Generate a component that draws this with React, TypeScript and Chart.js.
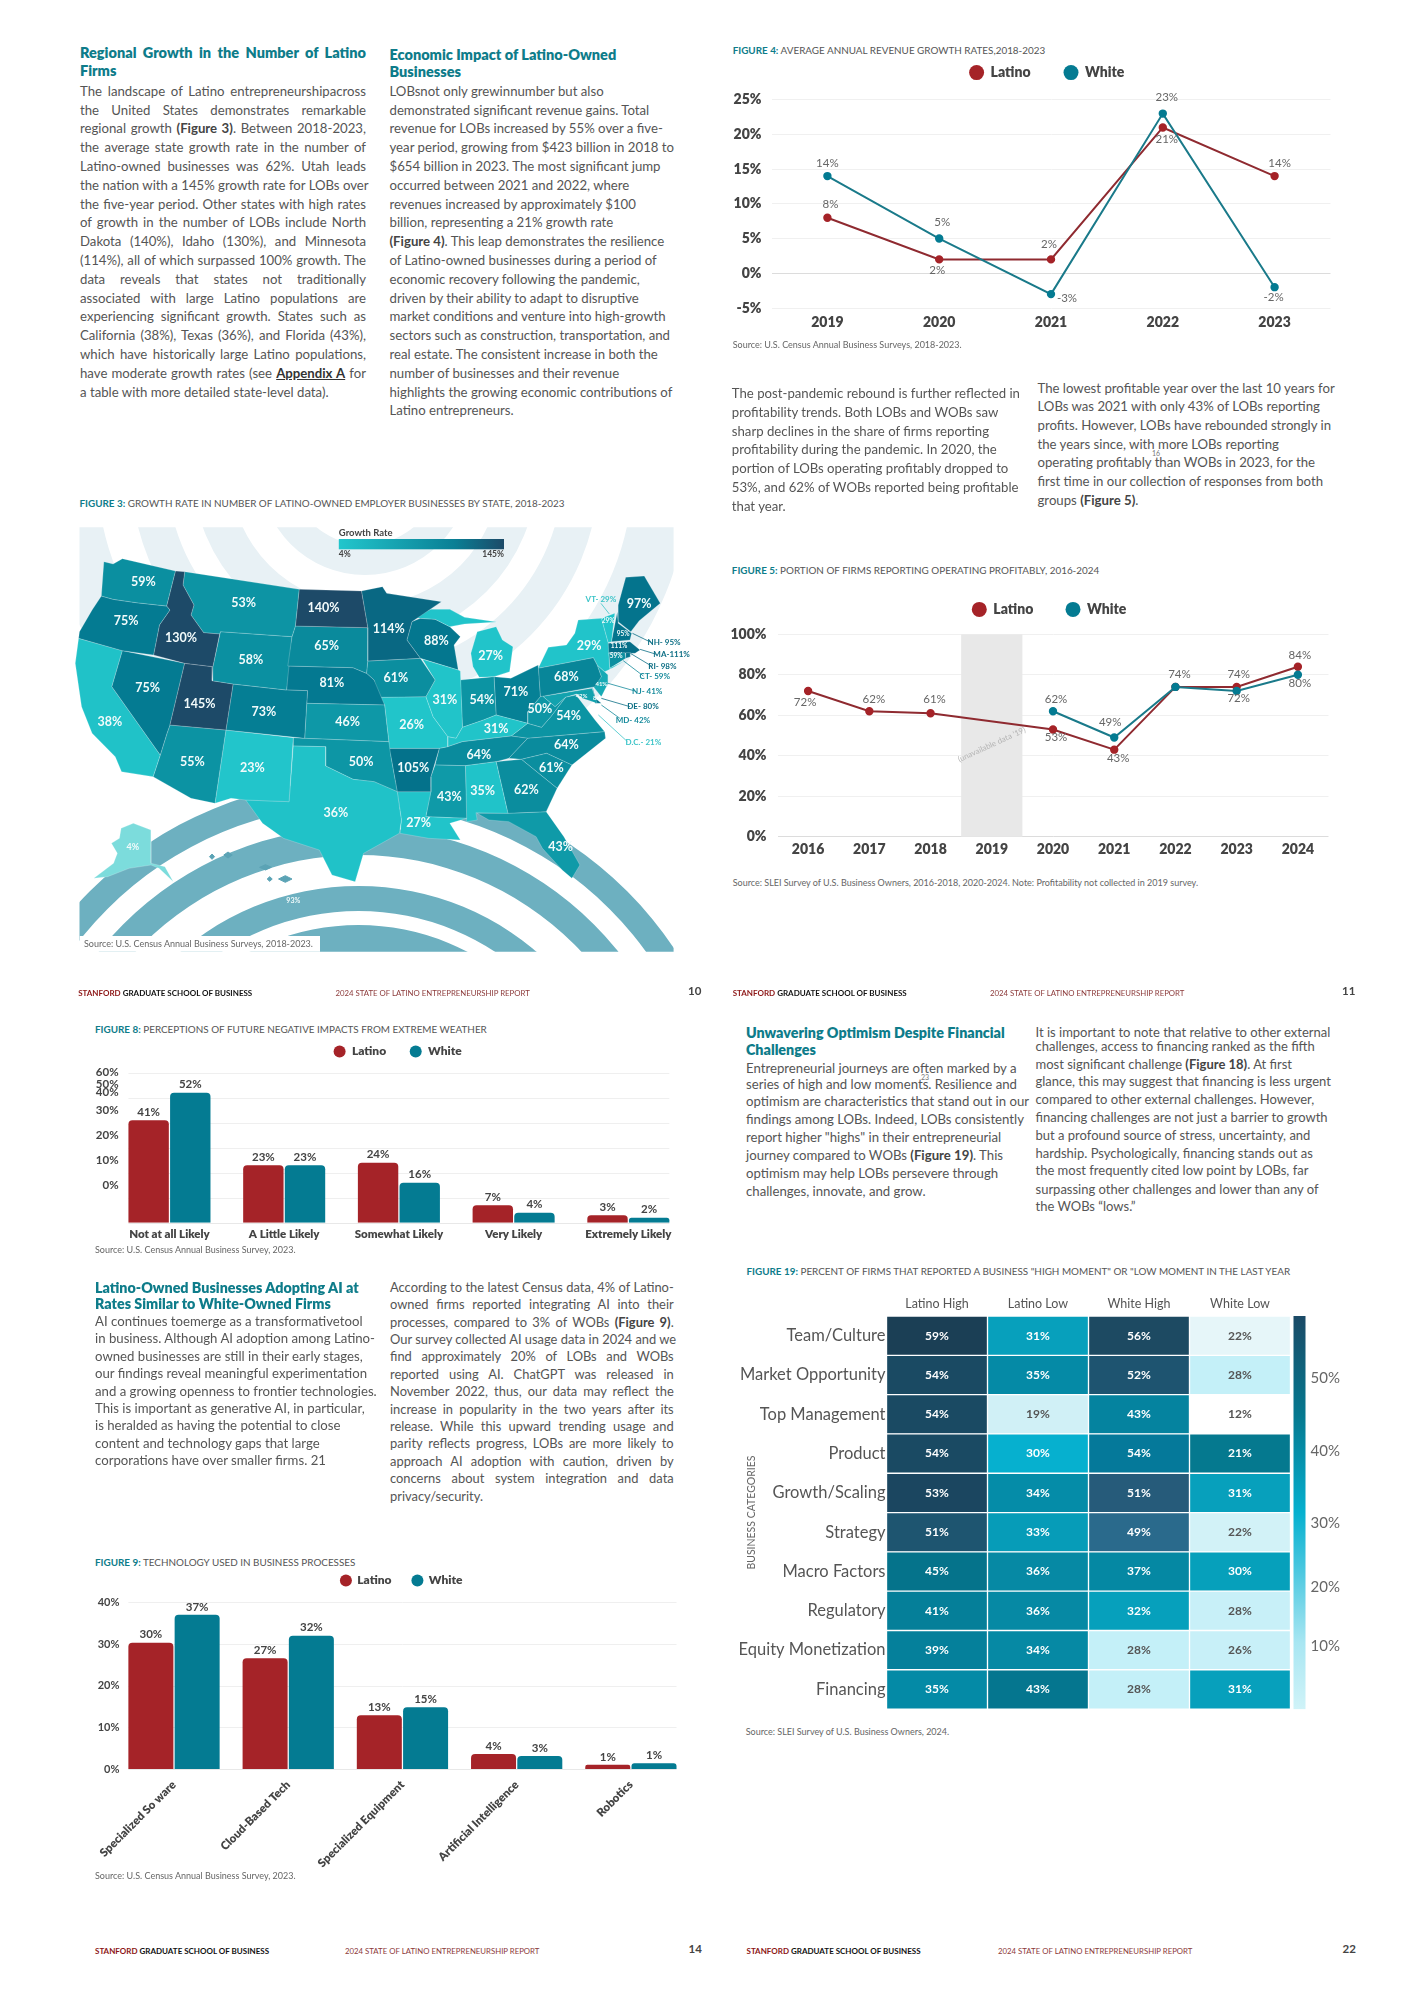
import React, { useEffect, useRef } from "react";
import { Chart, registerables } from "chart.js";

Chart.register(...registerables);
const FONT = "Lato";
Chart.defaults.font.family = FONT;

/* ---------- data ---------- */
const SERIES = ["Latino", "White"];

const fig4Years = ["2019", "2020", "2021", "2022", "2023"];
const fig4Latino = [8, 2, 2, 21, 14];
const fig4White = [14, 5, -3, 23, -2];

const fig5Years = ["2016", "2017", "2018", "2019", "2020", "2021", "2022", "2023", "2024"];
const fig5Latino = [72, 62, 61, null, 53, 43, 74, 74, 84];
const fig5White = [null, null, null, null, 62, 49, 74, 72, 80];

const fig8Cats = ["Not at all Likely", "A Little Likely", "Somewhat Likely", "Very Likely", "Extremely Likely"];
const fig8Latino = [41, 23, 24, 7, 3];
const fig8White = [52, 23, 16, 4, 2];
const fig8Ticks = [60, 50, 40, 30, 20, 10, 0];

const fig9Cats = ["Specialized So ware", "Cloud-Based Tech", "Specialized Equipment", "Artificial Intelligence", "Robotics"];
const fig9Latino = [30.3, 26.6, 12.9, 3.6, 1];
const fig9White = [37, 32, 14.8, 3.1, 1.4];
const fig9Ticks = [40, 30, 20, 10, 0];

const heatRows = ["Team/Culture", "Market Opportunity", "Top Management", "Product", "Growth/Scaling", "Strategy", "Macro Factors", "Regulatory", "Equity Monetization", "Financing"];
const heatColumns = ["Latino High", "Latino Low", "White High", "White Low"];
const heatLatinoHigh = [59, 54, 54, 54, 53, 51, 45, 41, 39, 35];
const heatLatinoLow = [31, 35, 19, 30, 34, 33, 36, 36, 34, 43];
const heatWhiteHigh = [56, 52, 43, 54, 51, 49, 37, 32, 28, 28];
const heatWhiteLow = [22, 28, 12, 21, 31, 22, 30, 28, 26, 31];
const heatBarTicks = [50, 40, 30, 20, 10];

const stateValues: Record<string, number> = {
  WA: 59, OR: 75, ID: 130, MT: 53, ND: 140, MN: 114, WI: 88, ME: 97, NY: 29, MI: 27, WY: 58, SD: 65, NE: 81, IA: 61,
  NV: 75, UT: 145, CO: 73, CA: 38, KS: 46, MO: 26, IL: 31, IN: 54, OH: 71, PA: 68, WV: 50, VA: 54, KY: 31, NC: 64,
  TN: 64, AZ: 55, NM: 23, OK: 50, AR: 105, SC: 61, GA: 62, AL: 35, MS: 43, TX: 36, LA: 27, FL: 43, AK: 4, HI: 93,
  VT: 29, NH: 95, MA: 111, CT: 59, RI: 98, NJ: 41, DE: 80, MD: 42, DC: 21,
};

/* state outlines, in map units */
const stateOutlines: [string, number[]][] = [
  ["WA", [128,215,150,222,172,206,298,243,277,348,205,338,150,328,122,318]],
  ["OR", [122,318,150,328,205,338,277,348,285,360,260,405,246,495,172,482,68,445,70,425,100,360]],
  ["ID", [298,243,320,245,316,285,342,345,335,375,365,428,403,432,387,530,320,520,246,495,260,405,285,360,277,348]],
  ["MT", [320,245,592,298,583,408,575,440,405,425,403,432,365,428,335,375,342,345,316,285]],
  ["ND", [592,298,740,303,755,413,583,408]],
  ["SD", [583,408,755,413,755,513,752,550,720,533,565,528,575,440]],
  ["WY", [405,425,575,440,562,600,435,582,385,572,387,530]],
  ["UT", [320,520,387,530,385,572,435,582,418,720,285,705]],
  ["NV", [172,482,320,520,285,705,278,730,262,795,147,590]],
  ["CA", [68,445,172,482,147,590,262,795,245,860,170,845,155,800,100,730,75,650,60,520]],
  ["AZ", [285,705,418,720,392,940,335,925,245,860,262,795,278,730]],
  ["CO", [435,582,562,600,612,602,610,640,605,745,418,720]],
  ["NM", [418,720,578,743,568,935,465,930,430,925,392,940]],
  ["TX", [578,768,655,770,655,828,720,868,770,875,825,905,835,990,830,1030,745,1090,725,1175,670,1155,640,1080,555,1045,505,1000,465,930,568,935]],
  ["OK", [578,743,605,745,805,755,810,800,825,905,770,875,720,868,655,828,655,770,578,768]],
  ["KS", [610,640,795,645,805,755,605,745]],
  ["NE", [565,528,720,533,752,550,770,570,795,645,610,640,612,602,562,600]],
  ["MN", [740,303,790,290,800,310,930,335,860,395,848,450,880,505,755,513,755,413]],
  ["IA", [755,513,880,505,915,570,893,620,778,622,770,570,752,550]],
  ["MO", [778,622,893,620,910,680,945,740,945,770,925,775,805,775,805,755,795,645]],
  ["AR", [805,775,925,775,905,860,905,905,825,905,810,800]],
  ["LA", [825,905,905,905,893,980,990,985,950,1000,975,1050,900,1045,832,1030,835,990]],
  ["MS", [915,825,987,827,990,985,893,980,905,905,905,860]],
  ["AL", [987,827,1060,815,1088,970,1012,968,1015,990,990,995]],
  ["GA", [1060,815,1120,808,1205,895,1179,965,1088,970]],
  ["FL", [1015,970,1088,970,1179,965,1221,1040,1259,1125,1240,1165,1217,1140,1170,1075,1155,1040,1090,995,1043,990]],
  ["SC", [1120,808,1180,790,1240,825,1205,895]],
  ["NC", [1090,805,1135,745,1318,725,1320,745,1240,825,1180,790,1120,808]],
  ["TN", [925,775,945,770,980,755,1096,738,1135,745,1090,805,1060,815,987,827,915,825]],
  ["KY", [945,740,965,745,980,712,1030,690,1060,675,1135,700,1096,738,980,755,945,770]],
  ["IL", [885,508,970,540,975,543,980,712,965,745,945,740,910,680,893,620,915,570]],
  ["IN", [975,570,1055,560,1060,675,1030,690,980,712]],
  ["OH", [1055,560,1095,565,1160,525,1165,620,1135,665,1135,700,1060,675]],
  ["MI", [1005,530,1000,490,1015,425,1060,410,1075,450,1100,470,1092,545,1055,560,1020,562]],
  ["MI", [862,382,905,358,950,358,985,382,1062,396,985,402,950,410,915,388,880,385]],
  ["WI", [860,395,880,385,915,388,950,410,975,440,960,465,970,540,880,505,848,450]],
  ["PA", [1160,535,1291,503,1300,525,1310,560,1295,590,1165,620]],
  ["NY", [1160,535,1184,472,1227,465,1247,430,1255,390,1310,385,1326,458,1330,538,1318,545,1300,525,1291,503]],
  ["NY", [1320,540,1366,512,1335,535]],
  ["WV", [1135,700,1135,665,1165,620,1170,618,1200,650,1225,622,1190,680,1168,712]],
  ["VA", [1096,738,1135,700,1168,712,1190,680,1225,622,1250,615,1295,690,1318,725,1135,745]],
  ["MD", [1165,620,1288,595,1300,640,1265,625,1251,612,1225,622,1200,650,1170,618]],
  ["DE", [1288,585,1296,625,1310,640,1295,640]],
  ["NJ", [1300,525,1326,555,1326,580,1310,620,1291,590,1310,560]],
  ["CT", [1328,490,1366,488,1368,505,1330,535]],
  ["RI", [1368,488,1379,488,1379,500,1368,505]],
  ["MA", [1326,460,1378,455,1402,480,1390,490,1326,488]],
  ["VT", [1310,385,1342,370,1334,455,1326,458]],
  ["NH", [1348,365,1350,400,1382,430,1378,450,1334,455]],
  ["ME", [1368,262,1412,258,1450,340,1400,392,1380,425,1350,395,1350,345]],
  ["AK", [169,1015,198,1000,240,1020,240,1120,273,1130,293,1175,259,1135,240,1125,188,1135,137,1160,104,1165,151,1120,160,1090,146,1060,165,1045]],
  ["HI", [543,1167,559,1157,575,1167,559,1177]],
  ["HI", [516,1167,522,1160,528,1167,522,1174]],
  ["HI", [498,1132,512,1124,526,1132,512,1140]],
  ["HI", [413,1095,423,1086,433,1095,423,1104]],
  ["HI", [379,1100,385,1092,391,1100,385,1108]],
];

const stateLabelAt: [string, number, number][] = [
  ["WA",222,275],["OR",181,393],["ID",311,444],["MT",460,338],["ND",650,354],["MN",805,418],["WI",918,454],["ME",1400,341],
  ["NY",1281,468],["MI",1047,499],["WY",477,509],["SD",657,467],["NE",670,580],["IA",822,565],["NV",232,593],["UT",355,642],
  ["CO",508,666],["CA",142,696],["KS",707,696],["MO",859,705],["IL",938,630],["IN",1026,630],["OH",1107,606],["PA",1227,562],
  ["WV",1164,658],["VA",1232,679],["KY",1060,717],["NC",1227,764],["TN",1019,794],["AZ",338,817],["NM",481,833],["OK",739,817],
  ["AR",863,835],["SC",1191,835],["GA",1132,899],["AL",1028,903],["MS",949,920],["TX",679,968],["LA",876,998],["FL",1213,1072],
];
const tinyLabelAt: [string, number, number, number][] = [
  ["AK",197,1071,9],["HI",578,1233,7],["VT",1326,393,6.5],["NH",1362,432,6.5],["MA",1352,468,6.5],["CT",1345,497,6.5],
  ["NJ",1310,583,6],["MD",1263,617,6],["DE",1304,623,6],
];
const callouts: [string, string, number, number, number, number, number, number, string][] = [
  ["VT","VT- 29%",1309,327,1309,340,1329,372,"#3cc4c8"],
  ["NH","NH- 95%",1459,457,1384,430,1428,457,"#0d6f85"],
  ["MA","MA-111%",1477,493,1402,478,1441,493,"#0d6f85"],
  ["RI","RI- 98%",1455,530,1379,490,1429,528,"#0d6f85"],
  ["CT","CT- 59%",1437,560,1362,512,1410,558,"#158a9c"],
  ["NJ","NJ- 41%",1419,605,1326,580,1390,603,"#158a9c"],
  ["DE","DE- 80%",1409,650,1310,625,1378,650,"#0d6f85"],
  ["MD","MD- 42%",1385,690,1310,645,1354,685,"#158a9c"],
  ["DC","D.C.- 21%",1410,758,1303,675,1372,755,"#3cc4c8"],
];
const mapLegend = { title: "Growth Rate", low: "4%", high: "145%" };

/* ---------- text ---------- */
const txtRegionalHead = ["Regional Growth in the Number of Latino", "Firms"];
const txtRegional = [
  "The landscape of Latino entrepreneurshipacross",
  "the United States demonstrates remarkable",
  "regional growth **(Figure 3)**. Between 2018-2023,",
  "the average state growth rate in the number of",
  "Latino-owned businesses was 62%. Utah leads",
  "the nation with a 145% growth rate for LOBs over",
  "the five-year period. Other states with high rates",
  "of growth in the number of LOBs include North",
  "Dakota (140%), Idaho (130%), and Minnesota",
  "(114%), all of which surpassed 100% growth. The",
  "data reveals that states not traditionally",
  "associated with large Latino populations are",
  "experiencing significant growth. States such as",
  "California (38%), Texas (36%), and Florida (43%),",
  "which have historically large Latino populations,",
  "have moderate growth rates (see __Appendix A__ for",
  "a table with more detailed state-level data).",
];
const txtEconHead = ["Economic Impact of Latino-Owned", "Businesses"];
const txtEcon = [
  "LOBsnot only grewinnumber but also",
  "demonstrated significant revenue gains. Total",
  "revenue for LOBs increased by 55% over a five-",
  "year period, growing from $423 billion in 2018 to",
  "$654 billion in 2023. The most significant jump",
  "occurred between 2021 and 2022, where",
  "revenues increased by approximately $100",
  "billion, representing a 21% growth rate",
  "**(Figure 4)**. This leap demonstrates the resilience",
  "of Latino-owned businesses during a period of",
  "economic recovery following the pandemic,",
  "driven by their ability to adapt to disruptive",
  "market conditions and venture into high-growth",
  "sectors such as construction, transportation, and",
  "real estate. The consistent increase in both the",
  "number of businesses and their revenue",
  "highlights the growing economic contributions of",
  "Latino entrepreneurs.",
];
const txtRebound = [
  "The post-pandemic rebound is further reflected in",
  "profitability trends. Both LOBs and WOBs saw",
  "sharp declines in the share of firms reporting",
  "profitability during the pandemic. In 2020, the",
  "portion of LOBs operating profitably dropped to",
  "53%, and 62% of WOBs reported being profitable",
  "that year.",
];
const txtLowest = [
  "The lowest profitable year over the last 10 years for",
  "LOBs was 2021 with only 43% of LOBs reporting",
  "profits. However, LOBs have rebounded strongly in",
  "the years since, with more LOBs reporting",
  "operating profitably than WOBs in 2023, for the",
  "first time in our collection of responses from both",
  "groups **(Figure 5)**.",
];
const txtAiHead = ["Latino-Owned Businesses Adopting AI at", "Rates Similar to White-Owned Firms"];
const txtAi = [
  "AI continues toemerge as a transformativetool",
  "in business. Although AI adoption among Latino-",
  "owned businesses are still in their early stages,",
  "our findings reveal meaningful experimentation",
  "and a growing openness to frontier technologies.",
  "This is important as generative AI, in particular,",
  "is heralded as having the potential to close",
  "content and technology gaps that large",
  "corporations have over smaller firms. 21",
];
const txtCensus = [
  "According to the latest Census data, 4% of Latino-",
  "owned firms reported integrating AI into their",
  "processes, compared to 3% of WOBs **(Figure 9)**.",
  "Our survey collected AI usage data in 2024 and we",
  "find approximately 20% of LOBs and WOBs",
  "reported using AI. ChatGPT was released in",
  "November 2022, thus, our data may reflect the",
  "increase in popularity in the two years after its",
  "release. While this upward trending usage and",
  "parity reflects progress, LOBs are more likely to",
  "approach AI adoption with caution, driven by",
  "concerns about system integration and data",
  "privacy/security.",
];
const txtOptHead = ["Unwavering Optimism Despite Financial", "Challenges"];
const txtOpt = [
  "Entrepreneurial journeys are often marked by a",
  "series of high and low moments. Resilience and",
  "optimism are characteristics that stand out in our",
  "findings among LOBs. Indeed, LOBs consistently",
  'report higher "highs" in their entrepreneurial',
  "journey compared to WOBs **(Figure 19)**. This",
  "optimism may help LOBs persevere through",
  "challenges, innovate, and grow.",
];
const txtFinancing = [
  "It is important to note that relative to other external",
  "challenges, access to financing ranked as the fifth",
  "most significant challenge **(Figure 18)**. At first",
  "glance, this may suggest that financing is less urgent",
  "compared to other external challenges. However,",
  "financing challenges are not just a barrier to growth",
  "but a profound source of stress, uncertainty, and",
  "hardship. Psychologically, financing stands out as",
  "the most frequently cited low point by LOBs, far",
  "surpassing other challenges and lower than any of",
  "the WOBs \u201Clows.\u201D",
];

/* ---------- styles ---------- */
const RED = "#a52328";
const TEAL = "#047b92";
const RED_LINE = "#8f2a30";
const TEAL_LINE = "#1a7a8a";
const INK = "#555";
const HEAD = "#0e7c8a";
const ISLAND = "#5ba3b5";

const stateStops: [number, string][] = [
  [4, "#7cdcdc"], [20, "#22c6cb"], [38, "#20c2c8"], [43, "#0f9aa8"], [55, "#0c93a3"], [65, "#0a8a9c"],
  [75, "#047b92"], [110, "#04708a"], [130, "#1d4a68"], [145, "#1d4a68"],
];
const hexRgb = (h: string) => [1, 3, 5].map((i) => parseInt(h.slice(i, i + 2), 16));
function stateColor(v: number) {
  for (let i = 1; i < stateStops.length; i++) {
    if (v <= stateStops[i][0]) {
      const [a, ca] = stateStops[i - 1];
      const [b, cb] = stateStops[i];
      const t = (v - a) / (b - a);
      const A = hexRgb(ca), B = hexRgb(cb);
      return `rgb(${A.map((c, k) => Math.round(c + (B[k] - c) * t)).join(",")})`;
    }
  }
  return stateStops[stateStops.length - 1][1];
}

const heatFill = [
  ["#1b3f55", "#1a4a63", "#1a4a63", "#1a4a63", "#1b4660", "#1e5570", "#05738b", "#057f99", "#05809b", "#048aa6"],
  ["#07a0bc", "#058aa6", "#d0f0f6", "#06b0cf", "#058ca8", "#069cb8", "#0689a4", "#0689a4", "#0689a4", "#05768f"],
  ["#1d4a62", "#1e5470", "#05839f", "#05799a", "#265b7a", "#2a6a8c", "#0588a3", "#06a0bc", "#c4f0f8", "#c4f0f8"],
  ["#e6f6f9", "#c4f0f8", "#ffffff", "#05798f", "#07a0bc", "#d2f2f7", "#06a0bb", "#c8f0f8", "#c8f0f8", "#07a0bc"],
];
const isLightCell = (hex: string) => hexRgb(hex)[0] > 150;

/* ---------- plugins ---------- */
const dotLegend = (xs: number[], y: number, textGap: number, r: number, size: number) => ({
  id: "dotLegend",
  afterDraw(chart: any) {
    const { ctx } = chart;
    ctx.save();
    ctx.textBaseline = "middle";
    ctx.textAlign = "left";
    ctx.font = `800 ${size}px ${FONT}`;
    [0, 1].forEach((i) => {
      const ds = chart.data.datasets.find((d: any) => d.label === SERIES[i]);
      ctx.fillStyle = i === 0 ? RED : TEAL;
      ctx.beginPath();
      ctx.arc(xs[i], y, r, 0, Math.PI * 2);
      ctx.fill();
      ctx.fillStyle = "#444";
      ctx.fillText(ds.label, xs[i] + textGap, y);
    });
    ctx.restore();
  },
});

const pointLabels = (offsets: Record<string, ([number, number] | null)[]>, size: number) => ({
  id: "pointLabels",
  afterDatasetsDraw(chart: any) {
    const { ctx } = chart;
    ctx.save();
    ctx.font = `${size}px ${FONT}`;
    ctx.fillStyle = "#666";
    ctx.textAlign = "center";
    ctx.textBaseline = "middle";
    chart.data.datasets.forEach((ds: any, di: number) => {
      const meta = chart.getDatasetMeta(di);
      ds.data.forEach((v: number | null, i: number) => {
        const off = offsets[ds.label][i];
        if (v === null || !off) return;
        const p = meta.data[i];
        ctx.fillText(`${v}%`, p.x + off[0], p.y + off[1]);
      });
    });
    ctx.restore();
  },
});

const barExtras = (size: number, lift: number) => ({
  id: "barExtras",
  beforeDatasetsDraw(chart: any) {
    const { ctx, scales } = chart;
    const a = chart.getDatasetMeta(0).data[0];
    const zs = chart.getDatasetMeta(1).data;
    const z = zs[zs.length - 1];
    const x0 = a.x - a.width / 2;
    const x1 = z.x + z.width / 2;
    ctx.save();
    ctx.lineWidth = 1;
    scales.y.ticks.forEach((t: any) => {
      const y = Math.round(scales.y.getPixelForValue(t.value)) + 0.5;
      ctx.strokeStyle = t.value === 0 ? "#e8e8e8" : "#efefef";
      ctx.beginPath();
      ctx.moveTo(x0, y);
      ctx.lineTo(x1, y);
      ctx.stroke();
    });
    ctx.restore();
  },
  afterDatasetsDraw(chart: any) {
    const { ctx } = chart;
    ctx.save();
    ctx.font = `bold ${size}px ${FONT}`;
    ctx.fillStyle = "#444";
    ctx.textAlign = "center";
    ctx.textBaseline = "middle";
    chart.data.datasets.forEach((ds: any, di: number) => {
      chart.getDatasetMeta(di).data.forEach((b: any, i: number) => {
        ctx.fillText(`${Math.round(ds.data[i])}%`, b.x, b.y - lift);
      });
    });
    ctx.restore();
  },
});

const shiftedTickLabels = (values: number[], shifts: number[], right: number, size: number) => ({
  id: "shiftedTickLabels",
  afterDraw(chart: any) {
    const { ctx, scales } = chart;
    ctx.save();
    ctx.font = `bold ${size}px ${FONT}`;
    ctx.fillStyle = "#444";
    ctx.textAlign = "right";
    ctx.textBaseline = "middle";
    values.forEach((v, i) => ctx.fillText(`${v}%`, right, scales.y.getPixelForValue(v) + shifts[i]));
    ctx.restore();
  },
});

const missingYearBand = {
  id: "missingYearBand",
  beforeDatasetsDraw(chart: any) {
    const { ctx, scales, chartArea } = chart;
    const c = scales.x.getPixelForValue(3);
    const w = scales.x.getPixelForValue(4) - c;
    ctx.save();
    ctx.fillStyle = "#e8e8e8";
    ctx.fillRect(c - w / 2, chartArea.top, w, chartArea.bottom - chartArea.top);
    ctx.translate(c, scales.y.getPixelForValue(45.5));
    ctx.rotate(-0.43);
    ctx.font = `8px ${FONT}`;
    ctx.fillStyle = "#b5b5b5";
    ctx.textAlign = "center";
    ctx.textBaseline = "middle";
    ctx.fillText("(unavailable data '19)", 0, 0);
    ctx.restore();
  },
};

const heatExtras = {
  id: "heatExtras",
  afterDatasetsDraw(chart: any) {
    const { ctx, chartArea } = chart;
    ctx.save();
    ctx.textAlign = "center";
    ctx.textBaseline = "middle";
    ctx.font = `bold 12px ${FONT}`;
    chart.data.datasets.forEach((ds: any, di: number) => {
      chart.getDatasetMeta(di).data.forEach((b: any, i: number) => {
        ctx.fillStyle = isLightCell(heatFill[di][i]) ? "#555" : "#fff";
        const r = ds.data[i];
        ctx.fillText(`${r.v}%`, (b.x + b.base) / 2, b.y);
      });
    });
    const x = chartArea.right + 3;
    const g = ctx.createLinearGradient(0, chartArea.top, 0, chartArea.bottom);
    g.addColorStop(0, "#1b4a66");
    g.addColorStop(0.25, "#05788f");
    g.addColorStop(0.5, "#06b0cf");
    g.addColorStop(0.65, "#4cc8e0");
    g.addColorStop(0.83, "#a8e6f2");
    g.addColorStop(1, "#d0f3f8");
    ctx.fillStyle = g;
    ctx.fillRect(x, chartArea.top, 12, chartArea.bottom - chartArea.top);
    ctx.font = `15px ${FONT}`;
    ctx.fillStyle = "#666";
    ctx.textAlign = "left";
    const tickRowPos = [0.157, 0.343, 0.526, 0.69, 0.839];
    heatBarTicks.forEach((t, i) => {
      ctx.fillText(`${t}%`, x + 17, chartArea.top + tickRowPos[i] * (chartArea.bottom - chartArea.top));
    });
    ctx.restore();
  },
};

const mapExtras = {
  id: "mapExtras",
  beforeDatasetsDraw(chart: any) {
    const { ctx } = chart;
    const ring = (cx: number, cy: number, r0: number, r1: number, color: string) => {
      ctx.fillStyle = color;
      ctx.beginPath();
      ctx.arc(cx, cy, r1, 0, Math.PI * 2);
      ctx.arc(cx, cy, r0, 0, Math.PI * 2, true);
      ctx.fill();
    };
    ctx.save();
    ctx.beginPath();
    ctx.rect(29.5, 37.3, 594.1, 424.4);
    ctx.clip();
    [[75, 105], [135, 172], [198, 234], [268, 325]].forEach(([a, b]) => ring(315, -20, a, b, "#e8f1f5"));
    [[0, 235], [249, 274], [305, 333], [355, 380]].forEach(([a, b]) => ring(308.5, 670, a, b, "#6db0c0"));
    ctx.fillStyle = "#fff";
    ctx.fillRect(29.5, 446, 240.5, 16);
    ctx.restore();
  },
  afterDatasetsDraw(chart: any) {
    const { ctx, scales } = chart;
    const X = (v: number) => scales.x.getPixelForValue(v);
    const Y = (v: number) => scales.y.getPixelForValue(v);
    ctx.save();
    ctx.textAlign = "center";
    ctx.textBaseline = "middle";
    ctx.fillStyle = "#f2fbfb";
    ctx.font = `bold 12.5px ${FONT}`;
    stateLabelAt.forEach(([s, x, y]) => ctx.fillText(`${stateValues[s]}%`, X(x), Y(y)));
    tinyLabelAt.forEach(([s, x, y, size]) => {
      ctx.font = `bold ${size}px ${FONT}`;
      ctx.fillText(`${stateValues[s]}%`, X(x), Y(y));
    });
    ctx.font = `bold 8px ${FONT}`;
    callouts.forEach(([, text, tx, ty, x0, y0, x1, y1, color]) => {
      ctx.strokeStyle = color;
      ctx.lineWidth = 0.8;
      ctx.beginPath();
      ctx.moveTo(X(x0), Y(y0));
      ctx.lineTo(X(x1), Y(y1));
      ctx.stroke();
      ctx.fillStyle = color;
      ctx.fillText(text, X(tx), Y(ty));
    });
    const g = ctx.createLinearGradient(288.8, 0, 454, 0);
    g.addColorStop(0, "#22c6cc");
    g.addColorStop(0.7, "#0a7f95");
    g.addColorStop(1, "#1c4a68");
    ctx.fillStyle = g;
    ctx.fillRect(288.8, 49, 165.2, 10.3);
    ctx.fillStyle = "#444";
    ctx.textAlign = "left";
    ctx.font = `bold 9.5px ${FONT}`;
    ctx.fillText(mapLegend.title, 288.8, 43.3);
    ctx.font = `bold 8.5px ${FONT}`;
    ctx.fillText(mapLegend.low, 288.8, 64);
    ctx.textAlign = "right";
    ctx.fillText(mapLegend.high, 454, 64);
    ctx.restore();
  },
};

/* ---------- chart configs ---------- */
const lineDs = (label: string, data: (number | null)[], line: string, point: string, order: number) => ({
  label, data, borderColor: line, backgroundColor: point, pointBackgroundColor: point, pointBorderColor: point,
  pointRadius: 3.2, borderWidth: 2, tension: 0, spanGaps: true, order,
});

const axisFont = (size: number) => ({ size, weight: "800" as any, family: FONT });

const fig4Offsets = {
  Latino: [[3, -13], [-2, 11], [-2, -15], [4, 12], [5, -13]],
  White: [[0, -13], [3, -16], [16, 4], [4, -16], [-1, 10]],
} as any;
const fig4Config = {
  type: "line",
  data: { labels: fig4Years, datasets: [lineDs(SERIES[0], fig4Latino, RED_LINE, RED, 1), lineDs(SERIES[1], fig4White, TEAL_LINE, TEAL, 0)] },
  options: {
    animation: false, responsive: false, layout: { padding: { top: 39.7, right: 9.5 } },
    plugins: { legend: { display: false }, tooltip: { enabled: false } },
    scales: {
      x: { offset: true, grid: { display: false, drawTicks: false }, border: { display: false }, afterFit: (s: any) => { s.height = 32; },
        ticks: { color: "#444", font: axisFont(14), padding: 5.6 } },
      y: { min: -5, max: 25, afterFit: (s: any) => { s.width = 51.5; }, border: { display: false },
        grid: { drawTicks: false, color: (c: any) => (c.tick.value === 0 ? "#dcdcdc" : "#f0f0f0") },
        ticks: { stepSize: 5, padding: 10, color: "#444", font: axisFont(14), callback: (v: number) => `${v}%` } },
    },
  },
  plugins: [pointLabels(fig4Offsets, 11.5), dotLegend([256.6, 351], 12.6, 14, 7.5, 14)],
};

const fig5Offsets = {
  Latino: [[-3, 11], [4.5, -12], [4, -14], null, [3, 8], [4, 9], null, [2, -13], [2, -11]],
  White: [null, null, null, null, [3, -12], [-4, -15], [4, -13], [2, 7], [2, 9]],
} as any;
const fig5Config = {
  type: "line",
  data: { labels: fig5Years, datasets: [lineDs(SERIES[0], fig5Latino, RED_LINE, RED, 1), lineDs(SERIES[1], fig5White, TEAL_LINE, TEAL, 0)] },
  options: {
    animation: false, responsive: false, layout: { padding: { top: 39.3, right: 11.5 } },
    plugins: { legend: { display: false }, tooltip: { enabled: false } },
    scales: {
      x: { offset: true, grid: { display: false, drawTicks: false }, border: { display: false }, afterFit: (s: any) => { s.height = 24.3; },
        ticks: { color: "#444", font: axisFont(14), padding: 4.4 } },
      y: { min: 0, max: 100, afterFit: (s: any) => { s.width = 57.5; }, border: { display: false },
        grid: { drawTicks: false, color: (c: any) => (c.tick.value === 0 ? "#dcdcdc" : "#f0f0f0") },
        ticks: { stepSize: 20, padding: 11, color: "#444", font: axisFont(14), callback: (v: number) => `${v}%` } },
    },
  },
  plugins: [missingYearBand, pointLabels(fig5Offsets, 11.5), dotLegend([259.3, 353], 14.4, 14, 7.5, 14)],
};

const barDs = (label: string, data: number[], color: string, catPct: number, barPct: number) => ({
  label, data, backgroundColor: color, borderRadius: { topLeft: 4, topRight: 4 }, borderSkipped: "bottom",
  categoryPercentage: catPct, barPercentage: barPct,
});

const fig8Config = {
  type: "bar",
  data: { labels: fig8Cats, datasets: [barDs(SERIES[0], fig8Latino, RED, 0.726, 0.97), barDs(SERIES[1], fig8White, TEAL, 0.726, 0.97)] },
  options: {
    animation: false, responsive: false, layout: { padding: { top: 32.7, right: 14.3 } },
    plugins: { legend: { display: false }, tooltip: { enabled: false } },
    scales: {
      x: { grid: { display: false, drawTicks: false }, border: { display: false }, afterFit: (s: any) => { s.height = 27.3; },
        ticks: { color: "#444", font: axisFont(11.5), padding: 5, maxRotation: 0, autoSkip: false } },
      y: { min: 0, max: 60, afterFit: (s: any) => { s.width = 52.1; }, border: { display: false }, grid: { display: false },
        ticks: { stepSize: 10, display: false } },
    },
  },
  plugins: [barExtras(11.5, 8), shiftedTickLabels(fig8Ticks, [0, -13, -30, -37.5, -37.5, -37.5, -37.5], 58.6, 11.5), dotLegend([279.6, 355.7], 11.4, 12.3, 6, 12)],
};

const fig9Config = {
  type: "bar",
  data: { labels: fig9Cats, datasets: [barDs(SERIES[0], fig9Latino, RED, 0.81, 0.973), barDs(SERIES[1], fig9White, TEAL, 0.81, 0.973)] },
  options: {
    animation: false, responsive: false, layout: { padding: { top: 32.3, right: 12 } },
    plugins: { legend: { display: false }, tooltip: { enabled: false } },
    scales: {
      x: { grid: { display: false, drawTicks: false }, border: { display: false }, afterFit: (s: any) => { s.height = 106; },
        ticks: { color: "#444", font: axisFont(11.5), padding: 9, minRotation: 45, maxRotation: 45, autoSkip: false } },
      y: { min: 0, max: 40, afterFit: (s: any) => { s.width = 56.9; }, border: { display: false }, grid: { display: false, drawTicks: false },
        ticks: { stepSize: 10, display: false } },
    },
  },
  plugins: [barExtras(11.5, 8), shiftedTickLabels(fig9Ticks, [0, 0, 0, 0, 0], 59.4, 11), dotLegend([285.9, 357.4], 10.5, 11.4, 6, 12)],
};

const heatSeries = [heatLatinoHigh, heatLatinoLow, heatWhiteHigh, heatWhiteLow];
const heatConfig = {
  type: "bar",
  data: {
    labels: heatRows,
    datasets: heatSeries.map((vals, c) => ({
      label: heatColumns[c],
      data: vals.map((v, r) => ({ y: heatRows[r], x: [c, c + 1], v })),
      backgroundColor: heatFill[c],
      borderColor: "#fff",
      borderWidth: 1,
      borderSkipped: false,
      grouped: false,
      barPercentage: 1,
      categoryPercentage: 1,
    })),
  },
  options: {
    indexAxis: "y", animation: false, responsive: false, layout: { padding: { right: 54.5, bottom: 7 } },
    plugins: { legend: { display: false }, tooltip: { enabled: false } },
    scales: {
      x: { type: "linear", position: "top", min: 0, max: 4, grid: { display: false, drawTicks: false }, border: { display: false },
        afterBuildTicks: (s: any) => { s.ticks = heatColumns.map((_, i) => ({ value: i + 0.5 })); },
        afterFit: (s: any) => { s.height = 21; },
        ticks: { autoSkip: false, maxRotation: 0, padding: 5, color: "#555", font: { size: 12.5 }, callback: (v: number) => heatColumns[Math.floor(v)] } },
      y: { type: "category", grid: { display: false, drawTicks: false }, border: { display: false }, afterFit: (s: any) => { s.width = 151.5; },
        title: { display: true, text: "BUSINESS CATEGORIES", color: "#666", font: { size: 10.5 }, padding: { top: 10, bottom: 0 } },
        ticks: { autoSkip: false, padding: 1, color: "#555", font: { size: 16.5 } } },
    },
  },
  plugins: [heatExtras],
};

const mapDatasets = stateOutlines.map(([state, flat]) => {
  const data: { x: number; y: number }[] = [];
  for (let i = 0; i < flat.length; i += 2) data.push({ x: flat[i], y: flat[i + 1] });
  data.push({ x: flat[0], y: flat[1] });
  const color = state === "HI" ? ISLAND : stateColor(stateValues[state]);
  return {
    label: state, data, showLine: true, fill: "shape", clip: false, tension: 0, pointRadius: 0,
    backgroundColor: color, borderColor: state === "HI" ? ISLAND : "rgba(255,255,255,0.2)", borderWidth: 1,
  };
});
const mapConfig = {
  type: "scatter",
  data: { datasets: mapDatasets },
  options: {
    animation: false, responsive: false, layout: { padding: 0 },
    plugins: { legend: { display: false }, tooltip: { enabled: false } },
    scales: {
      x: { type: "linear", display: false, min: 0, max: 1568.16 },
      y: { type: "linear", display: false, min: 0, max: 1560, reverse: true },
    },
  },
  plugins: [mapExtras],
};

/* ---------- components ---------- */
function ChartBox({ left, top, width, height, config }: any) {
  const ref = useRef<HTMLCanvasElement>(null);
  useEffect(() => {
    const chart = new Chart(ref.current as any, config);
    return () => chart.destroy();
  }, [config]);
  return <canvas ref={ref} width={width} height={height} style={{ position: "absolute", left, top, width, height, display: "block" }} />;
}

function rich(line: string) {
  return line.split(/(\*\*.+?\*\*|__.+?__)/).map((part, i) => {
    if (part.startsWith("**")) return <b key={i} style={{ color: "#444" }}>{part.slice(2, -2)}</b>;
    if (part.startsWith("__")) return <b key={i} style={{ color: "#333", textDecoration: "underline" }}>{part.slice(2, -2)}</b>;
    return <span key={i}>{part}</span>;
  });
}

function Lines({ x, ys, lines, size = 13.2, color = INK, weight = 400, w, justify = 0, spacing = 0 }: any) {
  return (
    <>
      {lines.map((line: string, i: number) => (
        <div key={i} style={{
          position: "absolute", left: x, top: ys[i] - 10, height: 20, lineHeight: "20px", fontSize: size, color, fontWeight: weight,
          whiteSpace: "nowrap", letterSpacing: spacing,
          width: w, textAlign: i < justify ? "justify" : "left", textAlignLast: i < justify ? "justify" : "left",
        }}>{rich(line)}</div>
      ))}
    </>
  );
}
const evenYs = (start: number, step: number, n: number) => Array.from({ length: n }, (_, i) => start + i * step);

function Caption({ x, y, label, text }: any) {
  return (
    <div style={{ position: "absolute", left: x, top: y - 8, height: 16, lineHeight: "16px", fontSize: 9.9, color: "#555", whiteSpace: "nowrap" }}>
      <b style={{ color: HEAD }}>{label}</b> {text}
    </div>
  );
}
function Source({ x, y, text }: any) {
  return <div style={{ position: "absolute", left: x, top: y - 8, height: 16, lineHeight: "16px", fontSize: 9, color: "#666", whiteSpace: "nowrap" }}>{text}</div>;
}
function Footer({ x, y, rx, px, page }: any) {
  const base: any = { position: "absolute", top: y - 8, height: 16, lineHeight: "16px", whiteSpace: "nowrap" };
  return (
    <>
      <div style={{ ...base, left: x, fontSize: 8, fontWeight: 700, color: "#111" }}><span style={{ color: "#8c1515" }}>STANFORD</span> GRADUATE SCHOOL OF BUSINESS</div>
      <div style={{ ...base, left: rx, fontSize: 7.8, color: "#8c3a3a" }}>2024 STATE OF LATINO ENTREPRENEURSHIP REPORT</div>
      <div style={{ ...base, left: px, top: y - 10, fontSize: 11.5, fontWeight: 700, color: "#444" }}>{page}</div>
    </>
  );
}
const Sup = ({ x, y, t }: any) => <div style={{ position: "absolute", left: x, top: y - 5, fontSize: 7, lineHeight: "10px", color: "#777" }}>{t}</div>;

export default function App() {
  return (
    <div style={{ position: "absolute", left: 0, top: 0, width: 1414, height: 2000, overflow: "hidden", background: "#fff", fontFamily: FONT }}>
      {/* page 10 */}
      <Lines x={80} ys={[53.3, 71]} lines={txtRegionalHead} size={14.5} weight={800} color={HEAD} w={286} justify={1} />
      <Lines x={80} ys={evenYs(90.7, 18.8, 17)} lines={txtRegional} w={286} justify={16} />
      <Lines x={389.5} ys={[55, 72]} lines={txtEconHead} size={14.5} weight={800} color={HEAD} />
      <Lines x={389.5} ys={evenYs(90.7, 18.8, 18)} lines={txtEcon} />
      <Caption x={79.5} y={503.3} label="FIGURE 3:" text="GROWTH RATE IN NUMBER OF LATINO-OWNED EMPLOYER BUSINESSES BY STATE, 2018-2023" />
      <ChartBox left={50} top={490} width={660} height={520} config={mapConfig} />
      <Source x={84} y={944} text="Source: U.S. Census Annual Business Surveys, 2018-2023." />
      <Footer x={78.2} y={992.7} rx={335.4} px={688} page="10" />

      {/* page 11 */}
      <Caption x={732.7} y={50.3} label="FIGURE 4:" text="AVERAGE ANNUAL REVENUE GROWTH RATES,2018-2023" />
      <ChartBox left={720} top={60} width={620} height={280} config={fig4Config} />
      <Source x={732.7} y={344.6} text="Source: U.S. Census Annual Business Surveys, 2018-2023." />
      <Lines x={731.8} ys={evenYs(393, 18.8, 7)} lines={txtRebound} />
      <Lines x={1037.5} ys={evenYs(387.5, 18.7, 7)} lines={txtLowest} />
      <Sup x={1152} y={452.7} t="16" />
      <Caption x={731.8} y={570.3} label="FIGURE 5:" text="PORTION OF FIRMS REPORTING OPERATING PROFITABLY, 2016-2024" />
      <ChartBox left={720} top={595} width={620} height={266} config={fig5Config} />
      <Source x={732.7} y={883} text="Source: SLEI Survey of U.S. Business Owners, 2016-2018, 2020-2024. Note: Profitability not collected in 2019 survey." />
      <Footer x={732.7} y={993} rx={990} px={1342} page="11" />

      {/* page 14 */}
      <Caption x={95} y={1029.3} label="FIGURE 8:" text="PERCEPTIONS OF FUTURE NEGATIVE IMPACTS FROM EXTREME WEATHER" />
      <ChartBox left={60} top={1040} width={640} height={210} config={fig8Config} />
      <Source x={95} y={1250} text="Source: U.S. Census Annual Business Survey, 2023." />
      <Lines x={95} ys={[1288.3, 1304.3]} lines={txtAiHead} size={14.3} weight={800} color={HEAD} />
      <Lines x={95} ys={evenYs(1321, 17.4, 9)} lines={txtAi} />
      <Lines x={390} ys={evenYs(1286.7, 17.42, 13)} lines={txtCensus} w={283.7} justify={12} size={12.9} />
      <Caption x={95} y={1562.3} label="FIGURE 9:" text="TECHNOLOGY USED IN BUSINESS PROCESSES" />
      <ChartBox left={60} top={1570} width={640} height={305} config={fig9Config} />
      <Source x={95} y={1876} text="Source: U.S. Census Annual Business Survey, 2023." />
      <Footer x={95} y={1951} rx={345} px={688.5} page="14" />

      {/* page 22 */}
      <Lines x={746} ys={[1033.3, 1050.3]} lines={txtOptHead} size={14.3} weight={800} color={HEAD} />
      <Lines x={746} ys={[1067.7, 1083.7, 1101, 1119, 1136.7, 1154.7, 1172.7, 1190.7]} lines={txtOpt} />
      <Sup x={921} y={1077} t="23" />
      <Lines x={1035.5} ys={[1031.7, 1045.7, 1063.7, 1081, 1099, 1117, 1134.7, 1152.7, 1170, 1188.7, 1205.7]} lines={txtFinancing} size={13} />
      <Caption x={746.5} y={1271.3} label="FIGURE 19:" text={'PERCENT OF FIRMS THAT REPORTED A BUSINESS "HIGH MOMENT" OR "LOW MOMENT IN THE LAST YEAR'} />
      <ChartBox left={735} top={1295} width={610} height={425} config={heatConfig} />
      <Source x={745.7} y={1731.7} text="Source: SLEI Survey of U.S. Business Owners, 2024." />
      <Footer x={746.5} y={1951} rx={998} px={1342.6} page="22" />
    </div>
  );
}
